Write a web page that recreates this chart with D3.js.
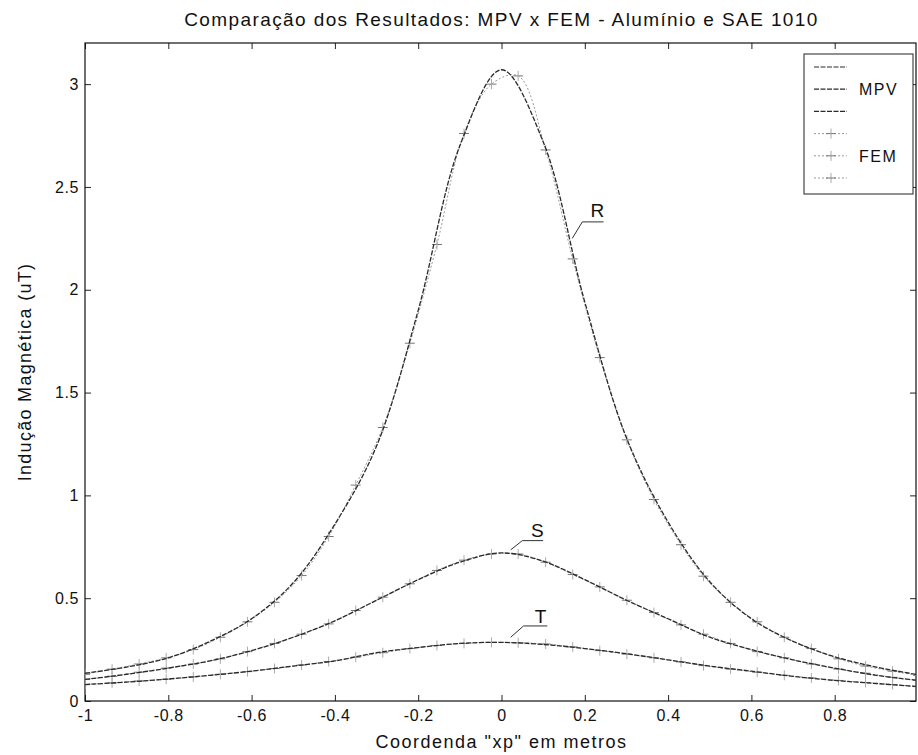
<!DOCTYPE html>
<html>
<head>
<meta charset="utf-8">
<script src="https://cdn.jsdelivr.net/npm/d3@7/dist/d3.min.js"></script>
<style>
  body { margin: 0; background: #fff; }
  svg { display: block; }
  text { font-family: "Liberation Sans", Arial, sans-serif; fill: #111; }
</style>
</head>
<body>
<svg id="chart"></svg>
<script>
// MPV curves, sampled every 0.1 m
const mpvX = [-1, -0.9, -0.8, -0.7, -0.6, -0.5, -0.4, -0.3, -0.2, -0.1, 0, 0.1, 0.2, 0.3, 0.4, 0.5, 0.6, 0.7, 0.8, 0.9, 1];
const mpvR = [0.135, 0.165, 0.21, 0.29, 0.40, 0.575, 0.86, 1.24, 1.90, 2.70, 3.07, 2.72, 1.94, 1.28, 0.87, 0.58, 0.40, 0.29, 0.215, 0.165, 0.128];
const mpvS = [0.105, 0.13, 0.16, 0.195, 0.245, 0.31, 0.39, 0.49, 0.59, 0.675, 0.72, 0.68, 0.59, 0.49, 0.40, 0.31, 0.25, 0.20, 0.16, 0.125, 0.10];
const mpvT = [0.08, 0.092, 0.107, 0.125, 0.145, 0.17, 0.195, 0.235, 0.26, 0.28, 0.285, 0.275, 0.255, 0.23, 0.20, 0.17, 0.145, 0.12, 0.10, 0.085, 0.07];

// FEM results at mesh nodes
const femX = [-1, -0.935, -0.87, -0.805, -0.74, -0.675, -0.61, -0.545, -0.48, -0.415, -0.35, -0.285, -0.22, -0.155, -0.09, -0.024,
              0.04, 0.106, 0.171, 0.236, 0.301, 0.366, 0.431, 0.485, 0.55, 0.614, 0.679, 0.744, 0.809, 0.874, 0.939, 1];
const femR = [0.13, 0.155, 0.18, 0.21, 0.25, 0.31, 0.385, 0.48, 0.61, 0.80, 1.05, 1.33, 1.74, 2.22, 2.76, 3.00,
              3.04, 2.68, 2.15, 1.67, 1.27, 0.98, 0.76, 0.607, 0.48, 0.385, 0.31, 0.255, 0.205, 0.17, 0.145, 0.125];
const femS = [0.105, 0.12, 0.14, 0.16, 0.18, 0.205, 0.24, 0.28, 0.325, 0.375, 0.44, 0.505, 0.57, 0.635, 0.685, 0.715,
              0.715, 0.675, 0.615, 0.555, 0.49, 0.43, 0.37, 0.325, 0.28, 0.24, 0.21, 0.18, 0.155, 0.135, 0.115, 0.10];
const femT = [0.08, 0.088, 0.097, 0.106, 0.117, 0.13, 0.143, 0.158, 0.175, 0.192, 0.213, 0.235, 0.255, 0.27, 0.28, 0.285,
              0.283, 0.277, 0.263, 0.245, 0.228, 0.21, 0.19, 0.172, 0.155, 0.14, 0.125, 0.112, 0.1, 0.09, 0.08, 0.07];

const xTicks = [-1, -0.8, -0.6, -0.4, -0.2, 0, 0.2, 0.4, 0.6, 0.8];
const yTicks = [0, 0.5, 1, 1.5, 2, 2.5, 3];

// curve labels: text, text position, leader end on the curve (data units)
const curveLabels = [
  { name: "R", tx: 0.23, ty: 2.355, ux0: 0.194, ux1: 0.245, uy: 2.33, ex: 0.17, ey: 2.25 },
  { name: "S", tx: 0.086, ty: 0.80, ux0: 0.05, ux1: 0.10, uy: 0.78, ex: 0.022, ey: 0.735 },
  { name: "T", tx: 0.094, ty: 0.38, ux0: 0.053, ux1: 0.11, uy: 0.365, ex: 0.022, ey: 0.31 }
];

const legendLabels = ["", "MPV", "", "", "FEM", ""];

const width = 918, height = 755;
const plot = { left: 85, right: 916, top: 43, bottom: 701 };

const svg = d3.select("#chart").attr("width", width).attr("height", height);

const x = d3.scaleLinear().domain([-1, 1]).range([plot.left, 918]);
const y = d3.scaleLinear().domain([0, 3.2]).range([plot.bottom, plot.top]);

svg.append("defs").append("clipPath").attr("id", "clip")
  .append("rect")
  .attr("x", plot.left).attr("y", plot.top)
  .attr("width", plot.right - plot.left).attr("height", plot.bottom - plot.top);

// axes (ticks pointing inwards, matlab style)
const fmt = d => String(d);
svg.append("g").attr("transform", "translate(0," + plot.bottom + ")")
  .call(d3.axisBottom(x).tickValues(xTicks).tickSize(-6).tickPadding(9).tickFormat(fmt));
svg.append("g").attr("transform", "translate(0," + plot.top + ")")
  .call(d3.axisTop(x).tickValues(xTicks).tickSize(-6).tickFormat(""));
svg.append("g").attr("transform", "translate(" + plot.left + ",0)")
  .call(d3.axisLeft(y).tickValues(yTicks).tickSize(-6).tickPadding(6).tickFormat(fmt));
svg.append("g").attr("transform", "translate(" + plot.right + ",0)")
  .call(d3.axisRight(y).tickValues(yTicks).tickSize(-6).tickFormat(""));

svg.selectAll(".domain").remove();
svg.selectAll(".tick line").attr("stroke", "#222");
svg.selectAll(".tick text")
  .style("font-size", "16px")
  .style("letter-spacing", "0.6px")
  .attr("fill", "#111");

svg.append("rect")
  .attr("x", plot.left).attr("y", plot.top)
  .attr("width", plot.right - plot.left).attr("height", plot.bottom - plot.top)
  .attr("fill", "none").attr("stroke", "#111").attr("stroke-width", 1.2);

const plotArea = svg.append("g").attr("clip-path", "url(#clip)");

const line = d3.line()
  .x(d => x(d[0]))
  .y(d => y(d[1]))
  .curve(d3.curveCatmullRom.alpha(0.5));

// FEM series: light dotted line with + markers
[femR, femS, femT].forEach(function(vals) {
  const pts = femX.map((v, i) => [v, vals[i]]);
  plotArea.append("path")
    .datum(pts)
    .attr("d", line)
    .attr("fill", "none")
    .attr("stroke", "#9a9a9a")
    .attr("stroke-width", 1)
    .attr("stroke-dasharray", "2,2");
  const mk = plotArea.append("g").selectAll("g")
    .data(pts).enter().append("g")
    .attr("transform", d => "translate(" + x(d[0]) + "," + y(d[1]) + ")");
  mk.append("line").attr("x1", -5).attr("x2", 5).attr("y1", 0).attr("y2", 0)
    .attr("stroke", "#777").attr("stroke-width", 1);
  mk.append("line").attr("x1", 0).attr("x2", 0).attr("y1", -5).attr("y2", 5)
    .attr("stroke", "#aaa").attr("stroke-width", 1);
});

// MPV series: dark line
[mpvR, mpvS, mpvT].forEach(function(vals) {
  plotArea.append("path")
    .datum(mpvX.map((v, i) => [v, vals[i]]))
    .attr("d", line)
    .attr("fill", "none")
    .attr("stroke", "#2a2a2a")
    .attr("stroke-width", 1.3)
    .attr("stroke-dasharray", "5,1.5");
});

// curve labels with leader lines
curveLabels.forEach(function(l) {
  svg.append("text")
    .attr("x", x(l.tx)).attr("y", y(l.ty))
    .attr("text-anchor", "middle")
    .style("font-size", "19px")
    .text(l.name);
  svg.append("polyline")
    .attr("points", [[x(l.ux1), y(l.uy)], [x(l.ux0), y(l.uy)], [x(l.ex), y(l.ey)]].map(p => p.join(",")).join(" "))
    .attr("fill", "none").attr("stroke", "#333").attr("stroke-width", 1);
});

// legend box
const legend = svg.append("g");
legend.append("rect")
  .attr("x", 804).attr("y", 54).attr("width", 109).attr("height", 140)
  .attr("fill", "#fff").attr("stroke", "#222").attr("stroke-width", 1);
const rowY = d3.scaleLinear().domain([0, 5]).range([67, 178]);
legendLabels.forEach(function(lab, i) {
  const yy = rowY(i);
  if (i < 3) {
    legend.append("line").attr("x1", 814).attr("x2", 847).attr("y1", yy).attr("y2", yy)
      .attr("stroke", "#2a2a2a").attr("stroke-width", 1.2).attr("stroke-dasharray", "5,1.5");
  } else {
    legend.append("line").attr("x1", 814).attr("x2", 847).attr("y1", yy).attr("y2", yy)
      .attr("stroke", "#9a9a9a").attr("stroke-width", 1).attr("stroke-dasharray", "2,2");
    legend.append("line").attr("x1", 826).attr("x2", 836).attr("y1", yy).attr("y2", yy)
      .attr("stroke", "#777");
    legend.append("line").attr("x1", 831).attr("x2", 831).attr("y1", yy - 5).attr("y2", yy + 5)
      .attr("stroke", "#aaa");
  }
  if (lab) {
    legend.append("text").attr("x", 859).attr("y", yy + 6)
      .style("font-size", "16px").style("letter-spacing", "1.5px").text(lab);
  }
});

// titles
svg.append("text")
  .attr("x", (plot.left + 918) / 2).attr("y", 26)
  .attr("text-anchor", "middle")
  .style("font-size", "19px")
  .style("letter-spacing", "1.4px")
  .text("Comparação dos Resultados: MPV x FEM - Alumínio e SAE 1010");

svg.append("text")
  .attr("x", (plot.left + 918) / 2).attr("y", 748)
  .attr("text-anchor", "middle")
  .style("font-size", "18px")
  .style("letter-spacing", "1.5px")
  .text("Coordenda \"xp\" em metros");

svg.append("text")
  .attr("transform", "translate(31," + ((plot.top + plot.bottom) / 2) + ") rotate(-90)")
  .attr("text-anchor", "middle")
  .style("font-size", "18px")
  .style("letter-spacing", "1.3px")
  .text("Indução Magnética (uT)");
</script>
</body>
</html>
